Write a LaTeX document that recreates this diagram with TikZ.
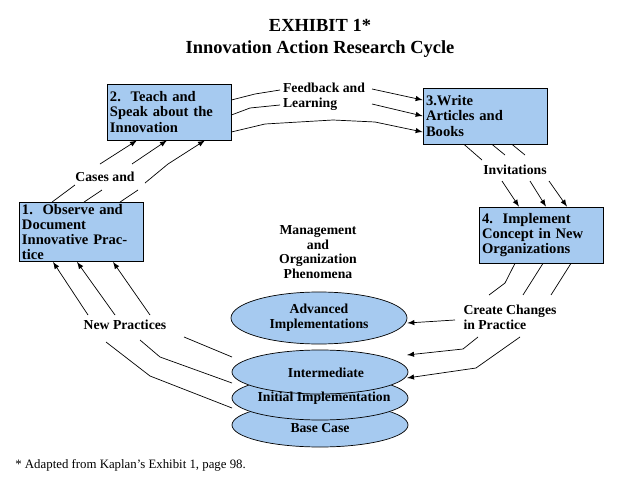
\documentclass[tikz,border=0pt]{standalone}
\usepackage{fontspec}
\setmainfont{Liberation Serif}
\usetikzlibrary{shapes.geometric}
\definecolor{paleblue}{HTML}{A6CAF0}
\tikzset{
	stagebox/.style={draw, fill=paleblue, minimum width=124*0.02cm, minimum height=56*0.02cm,
		text width=118*0.02cm, align=left, inner sep=1pt, font=\fontsize{8.3}{8.6}\selectfont\bfseries},
	layer/.style={draw, fill=paleblue, ellipse, minimum width=176*0.02cm, minimum height=44*0.02cm,
		font=\fontsize{7.8}{8.4}\selectfont\bfseries, align=center, inner sep=0pt},
	lbl/.style={font=\fontsize{7.8}{8.4}\selectfont\bfseries, align=left, inner sep=0pt},
	flow/.style={-latex},
}
\begin{document}
\begin{tikzpicture}[x=0.02cm, y=-0.02cm]
	\useasboundingbox (0,0) rectangle (640,480);

	% title
	\node[font=\fontsize{10.5}{12.5}\selectfont\bfseries, align=center] (title) at (320,38) {EXHIBIT 1*\\Innovation Action Research Cycle};

	% stages
	\node[stagebox] (observe) at (81,232) {1.\ \ Observe and\\Document\\Innovative Practice};
	\node[stagebox] (teach) at (169,112) {2.\ \ Teach and\\Speak about the\\Innovation};
	\node[stagebox] (write) at (485,116) {3.Write\\Articles and\\Books};
	\node[stagebox] (implement) at (541,235) {4.\ \ Implement\\Concept in New\\Organizations};

	% stack of implementations
	\node[layer] (base) at (320,425) {};
	\node[layer] (initial) at (320,398) {};
	\node[layer] (intermediate) at (320,372) {};
	\node[layer, minimum height=52*0.02cm] (advanced) at (319,318) {Advanced\\Implementations};
	\node[lbl] at (320,428) {Base Case};
	\node[lbl] at (324,398) {Initial Implementation};
	\node[lbl] at (326,373) {Intermediate};

	% labels
	\node[lbl, align=center] (phenomena) at (318,252) {Management\\and\\Organization\\Phenomena};
	\node[lbl] (cases) at (105,177) {Cases and};
	\node[lbl] (feedback) at (324,97) {Feedback and\\Learning};
	\node[lbl] (invitations) at (515,170) {Invitations};
	\node[lbl] (changes) at (510,317) {Create Changes\\in Practice};
	\node[lbl] (newpractices) at (125,325) {New Practices};
	\node[font=\fontsize{7.3}{8}\selectfont, anchor=west, inner sep=0pt] (note) at (15,465) {* Adapted from Kaplan's Exhibit 1, page 98.};

	% 1 -> 2
	\draw (observe.north -| 52,0) -- (75,185);
	\draw (observe.north -| 84,0) -- (102,190);
	\draw (observe.north -| 120,0) -- (138,190);
	\draw[flow] (100,164) -- (teach.south -| 137,0);
	\draw[flow] (132,164) -- (teach.south -| 167,0);
	\draw[flow] (145,183) -- (168,164) -- (teach.south -| 205,0);

	% 2 -> 3
	\draw (teach.east |- 0,100) -- (255,94) -- (280,90);
	\draw (teach.east |- 0,115) -- (250,108) -- (280,105);
	\draw[flow] (teach.east |- 0,132) -- (265,124) -- (333,120) -- (375,122) -- (write.west |- 0,132);
	\draw[flow] (372,89) -- (write.west |- 0,100);
	\draw[flow] (372,104) -- (write.west |- 0,116);

	% 3 -> 4
	\draw (write.south -| 464,0) -- (482,160);
	\draw (write.south -| 492,0) -- (505,155);
	\draw (write.south -| 512,0) -- (525,155);
	\draw[flow] (502,181) -- (implement.north -| 519,0);
	\draw[flow] (530,181) -- (implement.north -| 546,0);
	\draw[flow] (549,181) -- (implement.north -| 567,0);

	% 4 -> stack
	\draw (implement.south -| 515,0) -- (505,283) -- (489,295);
	\draw (implement.south -| 543,0) -- (523,295);
	\draw (implement.south -| 571,0) -- (551,295);
	\draw[flow] (455,320) -- (advanced.east |- 0,323);
	\draw[flow] (478,337) -- (463,349) -- (407,355);
	\draw[flow] (520,337) -- (476,368) -- (407,378);

	% stack -> 1
	\draw (184,337) -- (232,357);
	\draw (140,340) -- (160,357) -- (232,383);
	\draw (106,342) -- (150,376) -- (232,408);
	\draw[flow] (88,315) -- (observe.south -| 53,0);
	\draw[flow] (115,315) -- (observe.south -| 77,0);
	\draw[flow] (150,315) -- (observe.south -| 113,0);
\end{tikzpicture}
\end{document}
